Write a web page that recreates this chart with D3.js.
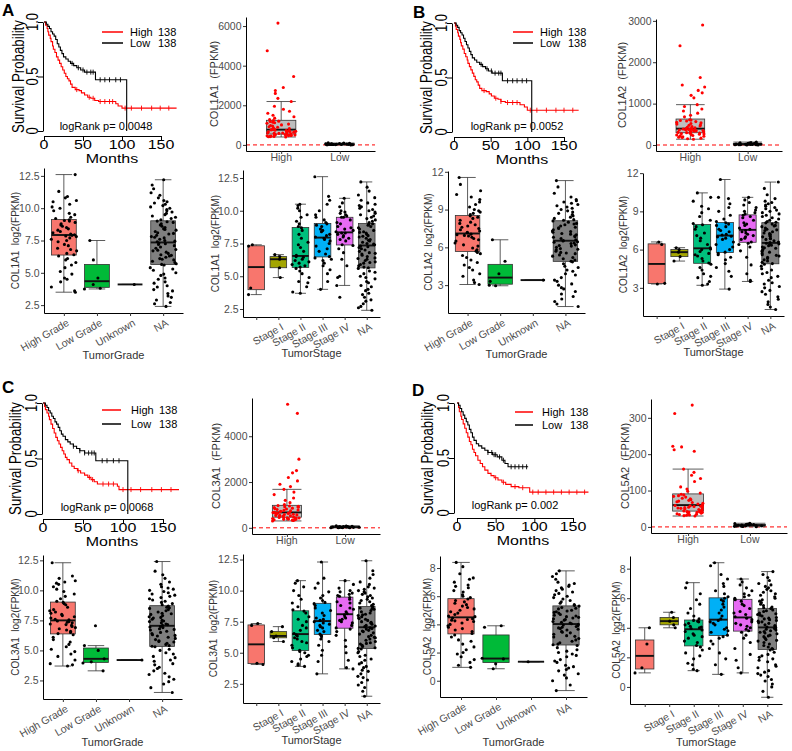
<!DOCTYPE html>
<html><head><meta charset="utf-8">
<script src="https://cdn.jsdelivr.net/npm/d3@7"></script>
<style>body{margin:0;background:#fff}svg{display:block}text{font-family:'Liberation Sans',Arial,Helvetica,sans-serif}</style>
</head><body>
<script>
// ================= DATA =================
const gradeCats = ["High Grade","Low Grade","Unknown","NA"];
const stageCats = ["","Stage I","Stage II","Stage III","Stage IV","NA"];
const exprCats = ["High","Low"];
const groupN = [138,138];
const kmYTicks = [0,0.5,1];
const kmXTicks = [0,50,100,150];
const genes = ["COL1A1","COL1A2","COL3A1","COL5A2"];
const pValues = ["0.0048","0.0052","0.0068","0.002"];
const exprTicksA = [0,2000,4000,6000], exprTicksB = [0,1000,2000,3000], exprTicksC = [0,2000,4000], exprTicksD = [0,100,200,300];
const logTicksA = [2.5,5,7.5,10,12.5], logTicksB = [3,6,9,12], logTicksC = [2.5,5,7.5,10,12.5], logTicksD = [0,2,4,6,8];

// Kaplan-Meier steps [month, survival]
const kmHighA = [[0,1],[2,0.97],[4,0.94],[5,0.91],[6,0.88],[8,0.85],[9,0.82],[11,0.78],[12,0.75],[14,0.72],[16,0.68],[18,0.65],[20,0.62],[22,0.59],[24,0.56],[26,0.53],[28,0.50],[30,0.48],[32,0.46],[34,0.43],[36,0.40],[40,0.38],[45,0.37],[48,0.35],[52,0.33],[56,0.31],[60,0.30],[65,0.28],[70,0.27],[92,0.25],[95,0.23],[100,0.21],[170,0.21]];
const kmLowA = [[0,1],[3,0.98],[5,0.96],[7,0.94],[9,0.91],[11,0.89],[13,0.87],[15,0.84],[17,0.80],[19,0.77],[21,0.74],[23,0.71],[25,0.68],[28,0.66],[31,0.64],[34,0.62],[38,0.60],[42,0.58],[47,0.56],[52,0.54],[66,0.47],[106,0]];
const censorHighA = [42,58,63,72,78,84,88,104,112,125,138,149,160];
const censorLowA = [36,44,50,55,60,63,72,78,84,92,98];
const kmHighB = [[0,1],[2,0.97],[3,0.94],[5,0.91],[6,0.88],[8,0.85],[9,0.82],[10,0.79],[12,0.76],[14,0.72],[16,0.69],[18,0.66],[19,0.63],[21,0.60],[23,0.57],[25,0.54],[27,0.51],[29,0.48],[31,0.46],[33,0.43],[35,0.40],[38,0.38],[44,0.37],[48,0.35],[51,0.33],[55,0.31],[60,0.30],[64,0.28],[70,0.27],[90,0.25],[96,0.23],[100,0.20],[170,0.20]];
const kmLowB = [[0,1],[3,0.98],[5,0.96],[7,0.93],[9,0.91],[11,0.89],[13,0.86],[15,0.83],[17,0.80],[19,0.77],[21,0.74],[23,0.71],[25,0.68],[28,0.66],[31,0.64],[35,0.62],[39,0.60],[43,0.58],[47,0.56],[52,0.54],[66,0.47],[106,0]];
const censorHighB = [41,57,64,73,80,86,104,113,126,139,150,162];
const censorLowB = [37,45,51,56,61,64,73,80,86,93,99];
const kmHighC = [[0,1],[2,0.97],[3,0.94],[5,0.91],[7,0.88],[8,0.85],[10,0.81],[12,0.77],[14,0.73],[16,0.69],[18,0.66],[20,0.63],[22,0.60],[24,0.57],[26,0.54],[28,0.51],[30,0.49],[33,0.46],[36,0.43],[39,0.41],[43,0.39],[47,0.37],[52,0.35],[56,0.33],[60,0.31],[64,0.29],[68,0.27],[93,0.25],[95,0.22],[170,0.22]];
const kmLowC = [[0,1],[3,0.98],[5,0.96],[7,0.93],[9,0.91],[11,0.88],[13,0.86],[15,0.83],[17,0.81],[19,0.78],[21,0.75],[23,0.72],[25,0.70],[28,0.67],[31,0.65],[34,0.63],[38,0.61],[42,0.59],[46,0.57],[52,0.55],[66,0.48],[106,0]];
const censorHighC = [44,58,62,75,82,88,100,110,122,136,148,160];
const censorLowC = [38,46,52,57,61,64,74,80,88,95];
const kmHighD = [[0,1],[2,0.96],[3,0.92],[5,0.88],[6,0.85],[8,0.81],[10,0.77],[12,0.73],[14,0.69],[16,0.65],[18,0.62],[20,0.58],[22,0.55],[24,0.52],[27,0.48],[30,0.45],[33,0.42],[36,0.39],[40,0.36],[44,0.34],[48,0.32],[53,0.30],[58,0.28],[63,0.26],[70,0.24],[80,0.23],[94,0.19],[170,0.19]];
const kmLowD = [[0,1],[2,0.98],[4,0.95],[6,0.92],[8,0.89],[10,0.86],[12,0.83],[14,0.80],[16,0.76],[18,0.73],[20,0.69],[22,0.66],[25,0.63],[28,0.61],[32,0.59],[36,0.57],[40,0.55],[46,0.53],[52,0.51],[58,0.48],[62,0.45],[66,0.42],[92,0.42]];
const censorHighD = [50,60,75,85,98,105,115,125,135,145,155,165];
const censorLowD = [40,45,48,50,55,60,70,75,80,85,90];

// Expression (FPKM) per group
const fpkmHighA = [400,410,420,430,440,450,462,470,480,490,500,505,512,520,530,540,550,565,580,590,600,615,630,645,660,675,690,700,715,730,745,760,780,800,830,860,890,920,950,980,1010,1050,1090,1120,1150,1180,1200,1230,1280,1350,1420,1500,1600,1700,1800,1950,2190,2350,2600,2750,2900,3450,4750,6150];
const fpkmLowA = [2,5,8,10,12,15,18,20,22,25,28,30,33,36,40,44,48,52,58,65,72,80,95,110];
const fpkmHighB = [140,150,165,180,190,200,210,220,230,240,250,260,268,275,283,290,298,305,312,320,328,335,342,350,356,362,368,373,378,382,386,390,400,415,430,445,460,475,490,505,520,535,550,565,580,592,602,610,680,720,770,820,870,930,975,1140,1200,1260,1320,1400,1450,1630,2400,2900];
const fpkmLowB = [1,3,5,6,8,10,12,14,16,18,20,22,25,28,30,34,38,42,48,55,62,70];
const fpkmHighC = [300,320,335,350,360,370,380,390,400,410,418,425,432,440,445,450,470,490,505,520,535,550,565,580,595,610,620,630,640,650,658,665,680,700,720,740,760,780,800,820,840,860,880,900,920,940,955,970,1020,1100,1200,1300,1450,1560,1680,1800,1900,2050,2200,2400,2500,3000,5000,5400];
const fpkmLowC = [2,4,6,9,12,15,18,20,24,28,32,36,40,45,50,56,62,70,80,92];
const fpkmHighD = [30,31,32,33,34,35,36,37,38,39,40,40,41,42,42,44,45,46,48,49,50,51,52,53,54,55,56,57,58,59,61,63,65,67,69,71,73,75,77,79,82,84,86,88,90,93,98,104,110,125,133,142,150,159,208,212,220,222,312,335];
const fpkmLowD = [0.5,1,1.5,2,2.5,3,3.5,4,4.5,5,5.5,6,6.5,7,7.5,8,9,10];

// log2(FPKM) by tumor grade / stage
const gradeHighA = [3.5,3.6,3.9,4.3,4.5,4.6,4.9,5.1,5.4,5.6,5.8,6.0,6.1,6.3,6.4,6.5,6.7,6.8,6.9,7.1,7.2,7.4,7.5,7.6,7.7,7.8,7.85,7.9,7.95,8.0,8.1,8.2,8.3,8.4,8.5,8.6,8.7,8.8,8.9,9.0,9.05,9.1,9.2,9.3,9.5,9.6,9.8,10.0,10.1,10.3,10.5,10.6,10.8,10.9,11.3,12.6];
const gradeLowA = [3.75,3.8,4.1,4.6,6.0,7.5];
const gradeUnkA = [4.1];
const naA = [2.4,2.6,2.7,2.9,3.1,3.2,3.4,3.6,3.7,3.9,4.0,4.2,4.3,4.5,4.6,4.8,4.9,5.0,5.2,5.3,5.4,5.6,5.65,5.7,5.8,5.9,6.0,6.05,6.1,6.2,6.3,6.35,6.4,6.5,6.6,6.7,6.75,6.8,6.9,7.0,7.1,7.2,7.25,7.3,7.4,7.45,7.5,7.6,7.7,7.75,7.8,7.9,8.0,8.05,8.1,8.2,8.3,8.35,8.4,8.5,8.6,8.7,8.8,8.9,8.95,9.0,9.1,9.2,9.3,9.4,9.5,9.6,9.7,9.8,9.9,10.0,10.1,10.2,10.3,10.4,10.5,10.6,10.8,11.0,11.2,11.5,11.8,12.2];
const stage0A = [3.6,4.1,7.3,7.4];
const stageIA = [4.9,5.65,6.3,6.5,6.65];
const stageIIA = [3.7,3.8,4.2,4.5,4.6,4.9,5.2,5.4,5.6,5.7,5.8,5.9,6.0,6.1,6.2,6.3,6.45,6.5,6.6,6.9,7.2,7.4,7.6,7.9,8.2,8.5,8.7,8.8,9.0,9.2,9.5,9.7,10.0,10.2,10.4,10.5];
const stageIIIA = [4.0,4.6,5.2,5.5,5.8,6.0,6.2,6.3,6.4,6.5,6.7,6.9,7.1,7.3,7.5,7.7,7.8,7.9,8.0,8.1,8.2,8.4,8.5,8.6,8.8,8.9,9.0,9.1,9.3,9.5,9.7,10.0,10.5,10.8,11.1,12.6];
const stageIVA = [3.4,4.3,4.9,5.0,5.8,6.3,6.8,7.1,7.35,7.4,7.7,7.8,7.9,8.0,8.1,8.2,8.3,8.3,8.4,8.5,8.6,8.7,8.8,9.0,9.1,9.3,9.5,9.5,9.6,9.7,9.8,9.9,10.0,10.3,10.6,10.95];

const gradeHighB = [3.05,3.2,3.4,3.7,3.9,4.2,4.4,4.6,4.8,5.0,5.2,5.35,5.5,5.6,5.7,5.8,5.95,6.1,6.2,6.35,6.5,6.6,6.7,6.8,6.9,6.95,7.0,7.05,7.15,7.2,7.3,7.4,7.5,7.6,7.7,7.8,7.9,8.0,8.15,8.3,8.4,8.5,8.6,8.7,8.8,8.9,9.0,9.2,9.4,9.6,9.8,10.0,10.2,10.5,11.0,11.55];
const gradeLowB = [2.95,3.0,3.3,3.9,4.9,6.6];
const gradeUnkB = [3.4];
const naB = [1.3,1.5,1.7,1.9,2.1,2.3,2.5,2.7,2.8,3.0,3.1,3.3,3.4,3.6,3.8,3.9,4.1,4.2,4.4,4.5,4.7,4.85,4.9,5.0,5.1,5.2,5.3,5.4,5.5,5.55,5.6,5.7,5.8,5.85,5.9,6.0,6.1,6.15,6.2,6.3,6.35,6.4,6.45,6.5,6.55,6.6,6.7,6.8,6.85,6.9,7.0,7.05,7.1,7.2,7.25,7.3,7.4,7.5,7.55,7.6,7.7,7.8,7.85,7.9,8.0,8.1,8.15,8.2,8.3,8.4,8.5,8.6,8.7,8.8,8.9,9.0,9.1,9.2,9.3,9.4,9.5,9.6,9.7,9.8,10.0,10.3,10.8,11.3];
const stage0B = [3.3,3.35,6.4,6.6];
const stageIB = [5.1,5.45,5.8,6.0,6.15];
const stageIIB = [3.2,3.3,3.5,3.8,3.9,4.1,4.4,4.6,4.85,4.95,5.1,5.3,5.5,5.6,5.7,5.85,6.0,6.05,6.15,6.4,6.7,6.9,7.1,7.3,7.6,7.8,7.95,8.05,8.3,8.6,8.9,9.2,9.4,9.8,10.1,10.45];
const stageIIIB = [2.9,3.9,4.3,4.6,4.9,5.2,5.4,5.6,5.7,5.8,6.0,6.2,6.4,6.6,6.8,6.9,7.0,7.05,7.15,7.2,7.4,7.5,7.6,7.8,7.9,8.0,8.1,8.2,8.4,8.7,9.0,9.3,9.6,10.0,10.1,11.5];
const stageIVB = [3.5,3.6,4.1,4.8,5.4,5.9,6.2,6.4,6.5,6.6,6.8,6.9,7.0,7.1,7.2,7.3,7.4,7.5,7.6,7.7,7.9,8.0,8.1,8.3,8.5,8.6,8.7,8.8,8.9,9.0,9.1,9.3,9.5,9.7,9.9,10.1];

const gradeHighC = [3.7,3.8,3.9,4.2,4.5,4.7,4.9,5.1,5.3,5.5,5.7,5.9,6.1,6.3,6.4,6.5,6.6,6.7,6.8,6.9,7.0,7.1,7.15,7.2,7.3,7.35,7.4,7.45,7.55,7.6,7.7,7.8,7.9,8.0,8.1,8.2,8.3,8.4,8.6,8.8,8.9,9.0,9.1,9.3,9.5,9.7,9.9,10.1,10.3,10.5,10.6,10.7,10.8,11.0,11.2,12.3];
const gradeLowC = [3.3,3.95,4.05,4.3,5.0,5.4,7.05];
const gradeUnkC = [4.2];
const naC = [1.5,1.9,2.2,2.4,2.6,2.8,3.0,3.1,3.3,3.5,3.6,3.8,3.9,4.1,4.2,4.4,4.5,4.7,4.8,5.0,5.1,5.3,5.35,5.4,5.5,5.6,5.7,5.75,5.8,5.9,6.0,6.1,6.2,6.25,6.3,6.4,6.5,6.6,6.7,6.75,6.8,6.9,6.95,7.0,7.1,7.15,7.2,7.3,7.4,7.45,7.5,7.6,7.7,7.75,7.8,7.9,8.0,8.05,8.1,8.2,8.3,8.4,8.5,8.55,8.6,8.7,8.8,8.9,9.0,9.1,9.2,9.3,9.4,9.5,9.6,9.7,9.8,9.9,10.0,10.1,10.2,10.3,10.5,10.7,11.0,11.3,11.6,12.4];
const stage0C = [4.05,4.15,7.2,7.35];
const stageIC = [5.9,6.2,6.35,6.7,7.1];
const stageIIC = [3.9,4.0,4.1,4.3,4.5,4.7,4.8,5.0,5.1,5.2,5.4,5.6,5.8,5.9,6.1,6.2,6.35,6.45,6.55,6.8,7.0,7.2,7.5,7.7,7.9,8.2,8.35,8.45,8.7,9.0,9.3,9.6,10.0,10.3,10.6,10.8];
const stageIIIC = [3.3,4.3,4.8,5.2,5.6,5.9,6.1,6.3,6.4,6.5,6.7,6.8,7.0,7.1,7.2,7.3,7.4,7.5,7.6,7.7,7.8,8.0,8.2,8.4,8.6,8.8,8.95,9.05,9.2,9.4,9.6,9.9,10.2,10.6,11.0,12.3];
const stageIVC = [3.7,3.8,4.4,5.0,5.5,6.0,6.4,6.7,6.9,7.0,7.2,7.4,7.5,7.6,7.7,7.8,7.9,8.05,8.15,8.3,8.5,8.6,8.8,9.0,9.1,9.3,9.45,9.55,9.6,9.7,9.8,9.9,10.0,10.2,10.5,10.8];

const gradeHighD = [0.95,1.1,1.3,1.5,1.7,1.9,2.0,2.2,2.4,2.6,2.8,2.9,3.1,3.25,3.35,3.5,3.6,3.7,3.8,3.9,4.0,4.1,4.2,4.25,4.3,4.35,4.4,4.45,4.55,4.6,4.7,4.8,4.9,5.0,5.1,5.2,5.3,5.4,5.5,5.6,5.7,5.8,5.9,6.0,6.1,6.3,6.4,6.6,6.7,6.8,7.0,7.2,7.3,7.6,8.1,8.4];
const gradeLowD = [0.85,1.2,1.55,1.6,3.8,3.9];
const gradeUnkD = [1.35];
const naD = [-0.7,-0.3,0.0,0.2,0.4,0.5,0.7,0.8,0.9,1.0,1.1,1.3,1.4,1.5,1.7,1.8,1.9,2.0,2.1,2.2,2.35,2.5,2.55,2.6,2.7,2.8,2.9,3.0,3.1,3.15,3.2,3.3,3.4,3.45,3.5,3.6,3.65,3.7,3.75,3.8,3.85,3.9,3.95,4.0,4.05,4.1,4.15,4.2,4.3,4.35,4.4,4.45,4.5,4.55,4.6,4.65,4.7,4.8,4.85,4.9,4.95,5.0,5.1,5.15,5.2,5.3,5.35,5.4,5.5,5.6,5.7,5.8,5.9,6.0,6.1,6.2,6.3,6.4,6.5,6.6,6.7,6.8,6.9,7.0,7.2,7.4,7.6,7.8];
const stage0D = [0.95,1.3,2.9,4.0];
const stageID = [4.0,4.2,4.45,4.7,5.05];
const stageIID = [1.1,1.2,1.5,1.6,1.9,2.1,2.3,2.5,2.7,2.8,3.0,3.1,3.3,3.4,3.5,3.6,3.75,3.85,3.95,4.0,4.05,4.1,4.2,4.3,4.4,4.45,4.5,4.6,4.8,5.0,5.3,5.6,5.9,6.3,6.7,7.05];
const stageIIID = [0.85,1.5,1.9,2.3,2.6,2.9,3.1,3.3,3.4,3.5,3.7,3.8,3.9,4.0,4.2,4.3,4.4,4.5,4.6,4.8,5.0,5.2,5.4,5.6,5.8,5.9,6.0,6.1,6.3,6.5,6.8,7.0,7.3,7.6,8.2,8.4];
const stageIVD = [0.95,1.3,1.8,2.2,2.6,3.0,3.3,3.5,3.7,3.8,3.9,4.0,4.1,4.2,4.3,4.4,4.55,4.65,4.75,4.9,5.0,5.1,5.3,5.5,5.6,5.8,5.9,6.0,6.1,6.2,6.3,6.5,6.7,6.9,7.1,7.3];

// ================= BUILD PANEL TABLES =================
const panels = [
 {letter:"A", gene:genes[0], p:pValues[0], kmHigh:kmHighA, kmLow:kmLowA, cenHigh:censorHighA, cenLow:censorLowA, exprHigh:fpkmHighA, exprLow:fpkmLowA, exprTicks:exprTicksA, logTicks:logTicksA,
  grade:[gradeHighA,gradeLowA,gradeUnkA,naA], stage:[stage0A,stageIA,stageIIA,stageIIIA,stageIVA,naA]},
 {letter:"B", gene:genes[1], p:pValues[1], kmHigh:kmHighB, kmLow:kmLowB, cenHigh:censorHighB, cenLow:censorLowB, exprHigh:fpkmHighB, exprLow:fpkmLowB, exprTicks:exprTicksB, logTicks:logTicksB,
  grade:[gradeHighB,gradeLowB,gradeUnkB,naB], stage:[stage0B,stageIB,stageIIB,stageIIIB,stageIVB,naB]},
 {letter:"C", gene:genes[2], p:pValues[2], kmHigh:kmHighC, kmLow:kmLowC, cenHigh:censorHighC, cenLow:censorLowC, exprHigh:fpkmHighC, exprLow:fpkmLowC, exprTicks:exprTicksC, logTicks:logTicksC,
  grade:[gradeHighC,gradeLowC,gradeUnkC,naC], stage:[stage0C,stageIC,stageIIC,stageIIIC,stageIVC,naC]},
 {letter:"D", gene:genes[3], p:pValues[3], kmHigh:kmHighD, kmLow:kmLowD, cenHigh:censorHighD, cenLow:censorLowD, exprHigh:fpkmHighD, exprLow:fpkmLowD, exprTicks:exprTicksD, logTicks:logTicksD,
  grade:[gradeHighD,gradeLowD,gradeUnkD,naD], stage:[stage0D,stageID,stageIID,stageIIID,stageIVD,naD]}
];

// ================= LAYOUT =================
const layout = [
 {letter:[2,16],
  km:{x0:44,x150:161,yTop:22,yBot:131,yAxisX:43,xAxisY:136,ylabX:19,monthsX:112,monthsY:159,legX1:102,legX2:123,legTX:130,legY1:32,legY2:43,lrX:106,lrY:126},
  ex:{axisX:246,top:17,bottom:151,right:375,ylabX:214},
  gr:{axisX:44,top:168,bottom:313,right:183,ylabX:15,titleY:355},
  st:{axisX:243,top:170,bottom:317,right:380,ylabX:215,titleY:353}},
 {letter:[413,18],
  km:{x0:454,x150:564,yTop:23,yBot:132,yAxisX:452,xAxisY:137,ylabX:427,monthsX:522,monthsY:160,legX1:513,legX2:533,legTX:540,legY1:32,legY2:43,lrX:517,lrY:126},
  ex:{axisX:656,top:19,bottom:151,right:782,ylabX:622},
  gr:{axisX:448,top:171,bottom:313,right:585,ylabX:428,titleY:354},
  st:{axisX:643,top:173,bottom:316,right:784,ylabX:623,titleY:352}},
 {letter:[2,393],
  km:{x0:43,x150:163,yTop:403,yBot:514,yAxisX:42,xAxisY:519,ylabX:16,monthsX:112,monthsY:542,legX1:102,legX2:121,legTX:131,legY1:410,legY2:424,lrX:107,lrY:507},
  ex:{axisX:252,top:398,bottom:534,right:380,ylabX:216},
  gr:{axisX:43,top:555,bottom:699,right:182,ylabX:15,titleY:742},
  st:{axisX:243,top:554,bottom:703,right:380,ylabX:213,titleY:740}},
 {letter:[412,396],
  km:{x0:457,x150:573,yTop:403,yBot:513,yAxisX:454,xAxisY:518,ylabX:428,monthsX:523,monthsY:541,legX1:515,legX2:533,legTX:542,legY1:412,legY2:425,lrX:515,lrY:505},
  ex:{axisX:651,top:399,bottom:533,right:787,ylabX:625},
  gr:{axisX:440,top:556,bottom:697,right:587,ylabX:427,titleY:742},
  st:{axisX:630,top:556,bottom:704,right:782,ylabX:616,titleY:742}}
];

const gradeColors = ["#F8766D","#00BA38","#619CFF","#7F7F7F"];
const stageColors = ["#F8766D","#A3A500","#00BF7D","#00B0F6","#E76BF3","#7F7F7F"];
const FONT = "'Liberation Sans', Arial, Helvetica, sans-serif";

// ================= DRAW =================
const svg = d3.select("body").append("svg").attr("width",792).attr("height",751);
svg.append("rect").attr("width",792).attr("height",751).attr("fill","#fff");

function label(g, x, y, s, o = {}) {
  let tr = `translate(${x},${y})`;
  if (o.rot) tr += ` rotate(${o.rot})`;
  if (o.sx || o.sy) tr += ` scale(${o.sx || 1},${o.sy || 1})`;
  const t = g.append("text").attr("transform", tr)
    .attr("text-anchor", o.anchor || "middle")
    .attr("dominant-baseline", o.base || "central")
    .attr("font-size", o.size || 11)
    .attr("fill", o.fill || "#000")
    .style("white-space", "pre")
    .text(s);
  if (o.weight) t.attr("font-weight", o.weight);
  return t;
}

function drawKM(c, d) {
  const g = svg.append("g");
  const x = d3.scaleLinear().domain([0,150]).range([c.x0, c.x150]);
  const y = d3.scaleLinear().domain([0,1]).range([c.yBot, c.yTop]);
  const ya = g.append("g").attr("transform", `translate(${c.yAxisX},0)`)
    .call(d3.axisLeft(y).tickValues(kmYTicks).tickSize(5).tickSizeOuter(0).tickFormat(""));
  const xa = g.append("g").attr("transform", `translate(0,${c.xAxisY})`)
    .call(d3.axisBottom(x).tickValues(kmXTicks).tickSize(5).tickSizeOuter(0).tickFormat(""));
  [ya, xa].forEach(a => { a.select(".domain").attr("stroke","#000").attr("stroke-width",1); a.selectAll(".tick line").attr("stroke","#000"); });
  kmYTicks.forEach(v => label(g, c.yAxisX - 10, y(v), v === 0 ? "0" : v.toFixed(1), {rot:-90, sx:0.81, size:16}));
  kmXTicks.forEach(v => label(g, x(v), c.xAxisY + 9, String(v), {sy:0.78, size:16}));
  label(g, c.ylabX, (c.yTop + c.yBot) / 2, "Survival Probability", {rot:-90, sx:0.83, size:16});
  label(g, c.monthsX, c.monthsY, "Months", {sy:0.78, size:16});
  const line = d3.line().x(p => x(p[0])).y(p => y(p[1])).curve(d3.curveStepAfter);
  const bis = d3.bisector(p => p[0]).right;
  [[d.kmHigh, d.cenHigh, "#ff0000"], [d.kmLow, d.cenLow, "#000000"]].forEach(([steps, cens, col]) => {
    g.append("path").attr("d", line(steps)).attr("fill","none").attr("stroke",col).attr("stroke-width",1.1);
    cens.forEach(t => {
      const s = steps[Math.max(0, bis(steps, t) - 1)][1];
      g.append("line").attr("x1", x(t)).attr("x2", x(t)).attr("y1", y(s) - 2.5).attr("y2", y(s) + 2.5)
        .attr("stroke", col).attr("stroke-width", 0.9);
    });
  });
  [[exprCats[0], c.legY1, "#ff0000", groupN[0]], [exprCats[1], c.legY2, "#000000", groupN[1]]].forEach(([nm, ly, col, n]) => {
    g.append("line").attr("x1", c.legX1).attr("x2", c.legX2).attr("y1", ly).attr("y2", ly).attr("stroke", col).attr("stroke-width", 1.5);
    label(g, c.legTX, ly, nm, {anchor:"start", size:11});
    label(g, c.legTX + 28, ly, String(n), {anchor:"start", size:11});
  });
  label(g, c.lrX, c.lrY, `logRank p= ${d.p}`, {size:11});
}

function boxStats(vals) {
  const s = vals.slice().sort(d3.ascending);
  const q1 = d3.quantileSorted(s, 0.25), med = d3.quantileSorted(s, 0.5), q3 = d3.quantileSorted(s, 0.75);
  const iqr = q3 - q1;
  const lo = d3.min(s.filter(v => v >= q1 - 1.5 * iqr));
  const hi = d3.max(s.filter(v => v <= q3 + 1.5 * iqr));
  return {q1, med, q3, lo, hi};
}

function drawBox(g, cx, u, y, vals, fill, boxW, capW) {
  const b = boxStats(vals);
  const st = "#333333";
  const hw = boxW * u / 2, cw = capW * u / 2;
  g.append("line").attr("x1",cx).attr("x2",cx).attr("y1",y(b.q3)).attr("y2",y(b.hi)).attr("stroke",st).attr("stroke-width",0.8);
  g.append("line").attr("x1",cx).attr("x2",cx).attr("y1",y(b.q1)).attr("y2",y(b.lo)).attr("stroke",st).attr("stroke-width",0.8);
  [b.hi, b.lo].forEach(v => g.append("line").attr("x1",cx-cw).attr("x2",cx+cw).attr("y1",y(v)).attr("y2",y(v)).attr("stroke",st).attr("stroke-width",0.8));
  g.append("rect").attr("x",cx-hw).attr("width",2*hw).attr("y",y(b.q3)).attr("height",Math.max(0,y(b.q1)-y(b.q3)))
    .attr("fill",fill).attr("stroke",st).attr("stroke-width",0.8);
  g.append("line").attr("x1",cx-hw).attr("x2",cx+hw).attr("y1",y(b.med)).attr("y2",y(b.med)).attr("stroke","#111").attr("stroke-width",1.9);
}

// deterministic horizontal jitter (position only, not data)
function jitterFrac(i, seed) {
  const s = Math.sin(i * 12.9898 + seed * 78.233) * 43758.5453;
  return s - Math.floor(s);
}

function drawPts(g, cx, u, y, vals, col, jw, seed) {
  vals.forEach((v, i) => {
    const f = jitterFrac(i, seed);
    g.append("circle").attr("cx", cx + (2 * f - 1) * jw * u).attr("cy", y(v)).attr("r", 1.55).attr("fill", col);
  });
}

function ggAxes(g, c, x, y, ticks, fmt) {
  const ya = g.append("g").attr("transform", `translate(${c.axisX},0)`)
    .call(d3.axisLeft(y).tickValues(ticks).tickFormat(fmt).tickSize(3).tickPadding(1.5).tickSizeOuter(0));
  const xa = g.append("g").attr("transform", `translate(0,${c.bottom})`)
    .call(d3.axisBottom(x).tickSize(3).tickSizeOuter(0).tickFormat(""));
  [ya, xa].forEach(a => {
    a.attr("font-family", FONT).attr("font-size", 10.5);
    a.select(".domain").attr("stroke", "#000").attr("stroke-width", 1);
    a.selectAll(".tick line").attr("stroke", "#333");
  });
  ya.selectAll("text").attr("fill", "#4d4d4d");
}

function yScaleFor(vals, c) {
  const [mn, mx] = d3.extent(vals), pad = (mx - mn) * 0.05;
  return d3.scaleLinear().domain([mn - pad, mx + pad]).range([c.bottom, c.top]);
}

function drawExpr(c, d, seed) {
  const g = svg.append("g");
  const y = yScaleFor(d.exprHigh.concat(d.exprLow, [0]), c);
  const x = d3.scalePoint().domain(exprCats).range([c.axisX, c.right]).padding(0.6);
  const u = x.step();
  g.append("line").attr("x1", c.axisX).attr("x2", c.right).attr("y1", y(0)).attr("y2", y(0))
    .attr("stroke", "#ff0000").attr("stroke-dasharray", "4,3").attr("stroke-width", 1);
  const groups = [d.exprHigh, d.exprLow], cols = ["#ff0000", "#000000"];
  groups.forEach((vals, k) => drawBox(g, x(exprCats[k]), u, y, vals, "#BEBEBE", 0.5, 0.5));
  groups.forEach((vals, k) => drawPts(g, x(exprCats[k]), u, y, vals, cols[k], 0.25, seed + k * 1.37));
  ggAxes(g, c, x, y, d.exprTicks, d3.format("d"));
  exprCats.forEach(cat => label(g, x(cat), c.bottom + 6, cat, {size:10.5, fill:"#4d4d4d"}));
  label(g, c.ylabX, (c.top + c.bottom) / 2, `${d.gene}  (FPKM)`, {rot:-90, size:11, fill:"#333"});
}

function drawCat(c, d, cats, groups, colors, title, seed) {
  const g = svg.append("g");
  const y = yScaleFor(groups.flat(), c);
  const x = d3.scalePoint().domain(cats).range([c.axisX, c.right]).padding(0.6);
  const u = x.step();
  groups.forEach((vals, k) => drawBox(g, x(cats[k]), u, y, vals, colors[k], 0.75, 0.5));
  groups.forEach((vals, k) => drawPts(g, x(cats[k]), u, y, vals, "#000", 0.4, seed + k * 2.29));
  const fmt = d.logTicks.some(v => v % 1 !== 0) ? d3.format(".1f") : d3.format("d");
  ggAxes(g, c, x, y, d.logTicks, fmt);
  cats.forEach(cat => label(g, x(cat) + 2, c.bottom + 5, cat, {rot:-30, anchor:"end", base:"hanging", size:10.5, fill:"#4d4d4d"}));
  label(g, (c.axisX + c.right) / 2, c.titleY, title, {size:11, fill:"#333"});
  label(g, c.ylabX, (c.top + c.bottom) / 2, `${d.gene}  log2(FPKM)`, {rot:-90, size:10, fill:"#333"});
}

panels.forEach((d, i) => {
  const L = layout[i];
  label(svg, L.letter[0], L.letter[1], d.letter, {anchor:"start", base:"alphabetic", size:17, weight:"bold"});
  drawKM(L.km, d);
  drawExpr(L.ex, d, 3.1 + i);
  drawCat(L.gr, d, gradeCats, d.grade, gradeColors, "TumorGrade", 1.7 + i * 0.9);
  drawCat(L.st, d, stageCats, d.stage, stageColors, "TumorStage", 5.3 + i * 1.1);
});
</script>
</body></html>
